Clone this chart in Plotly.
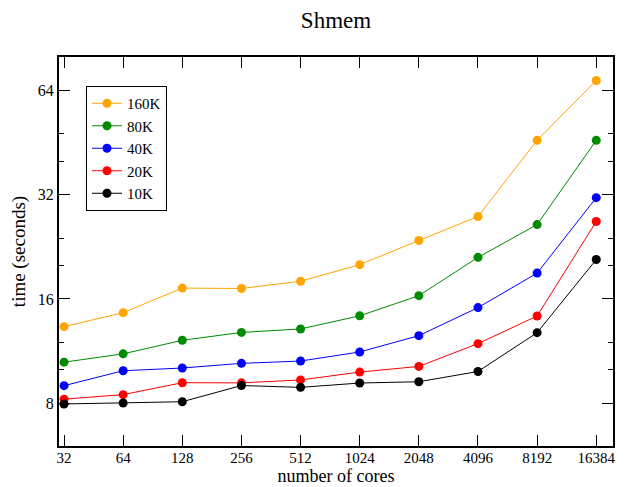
import math
import plotly.graph_objects as go

cores = [32, 64, 128, 256, 512, 1024, 2048, 4096, 8192, 16384]
series_names = ["160K", "80K", "40K", "20K", "10K"]
t_160k = [13.3, 14.6, 17.2, 17.15, 18.0, 20.1, 23.6, 27.7, 46.0, 68.5]
t_80k = [10.5, 11.1, 12.15, 12.8, 13.1, 14.3, 16.35, 21.1, 26.25, 46.0]
t_40k = [8.98, 9.92, 10.1, 10.42, 10.58, 11.24, 12.53, 15.1, 19.0, 31.4]
t_20k = [8.21, 8.46, 9.16, 9.15, 9.33, 9.83, 10.21, 11.88, 14.28, 26.8]
t_10k = [7.95, 8.0, 8.07, 8.99, 8.88, 9.14, 9.22, 9.87, 12.78, 20.8]
series_values = [t_160k, t_80k, t_40k, t_20k, t_10k]
series_colors = ["#ffa500", "#008b00", "#0000ff", "#ff0000", "#000000"]

y_ticks = [8, 16, 32, 64]
y_minor = [10, 12, 20, 24, 40, 48]

font_family = "Liberation Serif"

# the page body adds an 8px margin, so the figure is drawn 8px smaller
W, H = 623, 479

fig = go.Figure()
for name, vals, col in zip(series_names, series_values, series_colors):
    fig.add_trace(go.Scatter(
        x=cores, y=vals, name=name, mode="lines+markers",
        line=dict(color=col, width=1),
        marker=dict(color=col, size=9, symbol="circle"),
    ))

fig.update_layout(
    width=W, height=H,
    margin=dict(l=51, r=18, t=49, b=41, autoexpand=False),
    paper_bgcolor="white", plot_bgcolor="white",
    font=dict(family=font_family, color="black", size=14),
    title=dict(text="Shmem", x=(51 + 605) / 2 / W, xanchor="center",
               y=1 - 12 / H, yanchor="middle",
               font=dict(size=23, family=font_family, color="black")),
    showlegend=True,
    legend=dict(x=(86 - 59) / 554, y=(446 - 86) / 389, xanchor="left", yanchor="top",
                bordercolor="black", borderwidth=1, bgcolor="white",
                font=dict(size=15, family=font_family, color="black"),
                itemwidth=30, tracegroupgap=0),
)

fig.update_xaxes(
    type="log", automargin=False,
    range=[4.915 * math.log10(2), 14.283 * math.log10(2)],
    tickvals=cores, ticktext=[str(c) for c in cores],
    ticks="inside", ticklen=11, tickwidth=1, tickcolor="black",
    ticklabelstandoff=-3,
    showline=True, linecolor="black", linewidth=2, mirror="allticks",
    showgrid=False, zeroline=False,
    tickfont=dict(size=15, family=font_family, color="black"),
    title=dict(text="number of cores", standoff=3,
               font=dict(size=18, family=font_family, color="black")),
)
fig.update_yaxes(
    type="log", automargin=False,
    range=[math.log10(6.01), math.log10(80.1)],
    tickvals=y_ticks, ticktext=[str(v) for v in y_ticks],
    ticks="inside", ticklen=11, tickwidth=1, tickcolor="black",
    minor=dict(tickmode="array", tickvals=y_minor, ticks="inside", ticklen=5,
               tickwidth=1, tickcolor="black", showgrid=False),
    showline=True, linecolor="black", linewidth=2, mirror="allticks",
    showgrid=False, zeroline=False,
    tickfont=dict(size=16, family=font_family, color="black"),
    title=dict(text="time (seconds)", standoff=8,
               font=dict(size=19, family=font_family, color="black")),
)

fig.write_html("out.html")
